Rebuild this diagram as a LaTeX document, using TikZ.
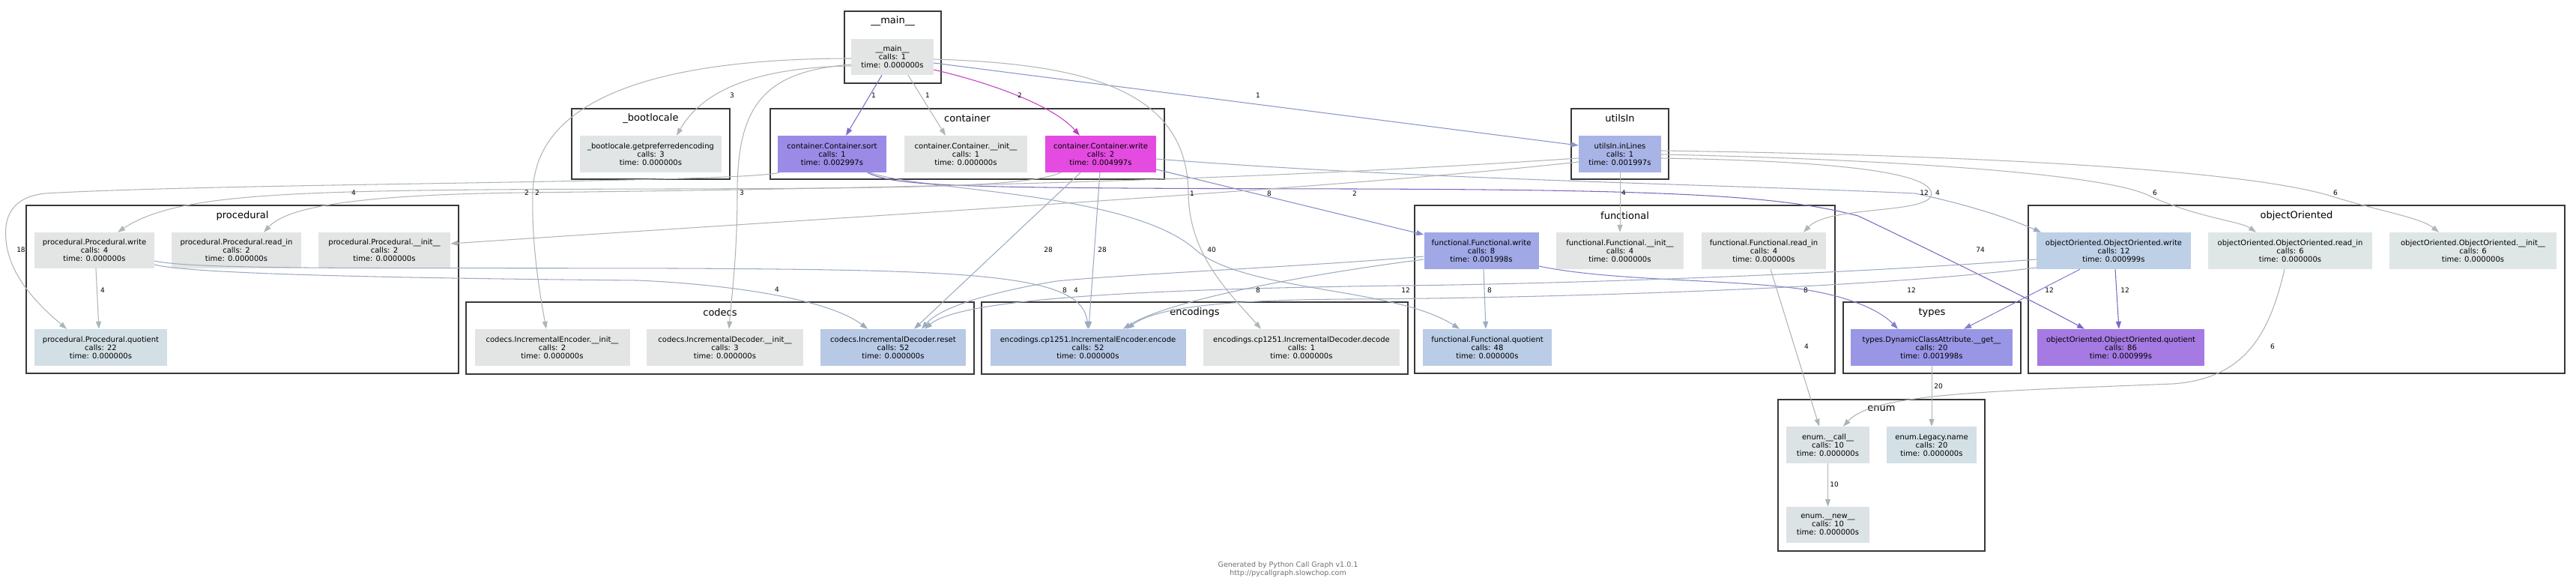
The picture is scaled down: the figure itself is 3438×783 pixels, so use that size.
\documentclass[tikz,border=0pt]{standalone}
\usepackage{fontspec}
\setmainfont{DejaVu Sans}
\usetikzlibrary{arrows.meta}
\definecolor{nGray}{HTML}{E3E5E5}
\definecolor{nBoot}{HTML}{E1E5E6}
\definecolor{nSort}{HTML}{9B8AE6}
\definecolor{nCwrite}{HTML}{E44BE1}
\definecolor{nUtils}{HTML}{A8B4E6}
\definecolor{nFwrite}{HTML}{A0A8E6}
\definecolor{nFquot}{HTML}{BACCE6}
\definecolor{nTypes}{HTML}{9A96E6}
\definecolor{nOOwrite}{HTML}{BED0E6}
\definecolor{nOOgray}{HTML}{DFE6E6}
\definecolor{nOOquot}{HTML}{A57AE3}
\definecolor{nPquot}{HTML}{D2E0E5}
\definecolor{nBlue}{HTML}{B8C9E6}
\definecolor{nEnum}{HTML}{DCE3E5}
\definecolor{nEname}{HTML}{D3E0E5}
\definecolor{eGray}{HTML}{B2B5B5}
\definecolor{eSort}{HTML}{7B6CC6}
\definecolor{eCwrite}{HTML}{C23DBF}
\definecolor{eUtils}{HTML}{8A95C8}
\definecolor{eFwrite}{HTML}{858DCC}
\definecolor{eOOwrite}{HTML}{9CAAC0}
\definecolor{eFquot}{HTML}{9CACC2}
\definecolor{ePquot}{HTML}{ABB6BA}
\definecolor{eOOquot}{HTML}{7D66C4}
\definecolor{eTypes}{HTML}{8480CC}
\definecolor{eBlue}{HTML}{9DABC0}
\definecolor{eEnum}{HTML}{AAB4B8}
\definecolor{kBorder}{HTML}{383838}
\definecolor{footGray}{HTML}{707070}
\begin{document}
\begin{tikzpicture}[x=1pt,y=-1pt,
  fn/.style={rectangle, inner sep=0pt, align=center, font=\fontsize{10}{11}\selectfont, text=black, minimum height=49pt},
  clus/.style={rectangle, draw=kBorder, line width=2.2pt, fill=white, inner sep=0pt},
  clab/.style={font=\fontsize{13}{15}\selectfont, inner sep=0pt, text=black},
  elab/.style={font=\fontsize{9}{10}\selectfont, inner sep=0pt, text=black},
  cg/.style={line width=1.05pt, draw=#1, -{Triangle[length=10pt,width=7pt]}}
]
\fill[white] (0,0) rectangle (3438,783);
\useasboundingbox (0,0) rectangle (3438,783);

% clusters
\node[clus, minimum width=129pt, minimum height=96pt] (kmain) at (1191.5,63) {};
\node[clus, minimum width=211pt, minimum height=94pt] (kboot) at (868.5,192) {};
\node[clus, minimum width=526pt, minimum height=94pt] (kcont) at (1291,192) {};
\node[clus, minimum width=130pt, minimum height=94pt] (kutils) at (2162,192) {};
\node[clus, minimum width=577pt, minimum height=224pt] (kproc) at (323.5,386) {};
\node[clus, minimum width=561pt, minimum height=224pt] (kfunc) at (2168.5,386) {};
\node[clus, minimum width=716pt, minimum height=224pt] (koo) at (3065,386) {};
\node[clus, minimum width=237pt, minimum height=95pt] (ktypes) at (2578.5,450.5) {};
\node[clus, minimum width=678pt, minimum height=96pt] (kcodecs) at (961,451) {};
\node[clus, minimum width=569pt, minimum height=96pt] (kenc) at (1594.5,451) {};
\node[clus, minimum width=276pt, minimum height=202pt] (kenum) at (2511,634) {};

\node[clab] (tmain) at (1191.5,28) {\_\_main\_\_};
\node[clab] (tboot) at (868.5,158) {\_bootlocale};
\node[clab] (tcont) at (1291,158) {container};
\node[clab] (tutils) at (2162,158) {utilsIn};
\node[clab] (tproc) at (323.5,288) {procedural};
\node[clab] (tfunc) at (2168.5,288) {functional};
\node[clab] (too) at (3065,288) {objectOriented};
\node[clab] (ttypes) at (2578.5,417) {types};
\node[clab] (tcodecs) at (961,417) {codecs};
\node[clab] (tenc) at (1594.5,417) {encodings};
\node[clab] (tenum) at (2511,545) {enum};

% nodes
\node[fn, fill=nGray, minimum width=110pt, minimum height=48pt] (main) at (1191,76) {\_\_main\_\_\\calls: 1\\time: 0.000000s};
\node[fn, fill=nBoot, minimum width=189pt] (boot) at (868.5,205.5) {\_bootlocale.getpreferredencoding\\calls: 3\\time: 0.000000s};
\node[fn, fill=nSort, minimum width=145pt] (sort) at (1110.5,205.5) {container.Container.sort\\calls: 1\\time: 0.002997s};
\node[fn, fill=nGray, minimum width=164pt] (cinit) at (1289,205.5) {container.Container.\_\_init\_\_\\calls: 1\\time: 0.000000s};
\node[fn, fill=nCwrite, minimum width=148pt] (cwrite) at (1469,205.5) {container.Container.write\\calls: 2\\time: 0.004997s};
\node[fn, fill=nUtils, minimum width=110pt] (utils) at (2162,205.5) {utilsIn.inLines\\calls: 1\\time: 0.001997s};
\node[fn, fill=nGray, minimum width=160pt, minimum height=48pt] (pwrite) at (126,334) {procedural.Procedural.write\\calls: 4\\time: 0.000000s};
\node[fn, fill=nGray, minimum width=173pt, minimum height=48pt] (pread) at (315.5,334) {procedural.Procedural.read\_in\\calls: 2\\time: 0.000000s};
\node[fn, fill=nGray, minimum width=176pt, minimum height=48pt] (pinit) at (513,334) {procedural.Procedural.\_\_init\_\_\\calls: 2\\time: 0.000000s};
\node[fn, fill=nPquot, minimum width=177pt] (pquot) at (134.5,463.5) {procedural.Procedural.quotient\\calls: 22\\time: 0.000000s};
\node[fn, fill=nFwrite, minimum width=153pt] (fwrite) at (1977,334.5) {functional.Functional.write\\calls: 8\\time: 0.001998s};
\node[fn, fill=nGray, minimum width=170pt] (finit) at (2162,334.5) {functional.Functional.\_\_init\_\_\\calls: 4\\time: 0.000000s};
\node[fn, fill=nGray, minimum width=166pt] (fread) at (2354,334.5) {functional.Functional.read\_in\\calls: 4\\time: 0.000000s};
\node[fn, fill=nFquot, minimum width=172pt] (fquot) at (1985,463.5) {functional.Functional.quotient\\calls: 48\\time: 0.000000s};
\node[fn, fill=nTypes, minimum width=216pt] (types) at (2578,463.5) {types.DynamicClassAttribute.\_\_get\_\_\\calls: 20\\time: 0.001998s};
\node[fn, fill=nOOwrite, minimum width=206pt] (oowrite) at (2821,334.5) {objectOriented.ObjectOriented.write\\calls: 12\\time: 0.000999s};
\node[fn, fill=nOOgray, minimum width=219pt] (ooread) at (3056.5,334.5) {objectOriented.ObjectOriented.read\_in\\calls: 6\\time: 0.000000s};
\node[fn, fill=nOOgray, minimum width=223pt] (ooinit) at (3300.5,334.5) {objectOriented.ObjectOriented.\_\_init\_\_\\calls: 6\\time: 0.000000s};
\node[fn, fill=nOOquot, minimum width=223pt] (ooquot) at (2830.5,463.5) {objectOriented.ObjectOriented.quotient\\calls: 86\\time: 0.000999s};
\node[fn, fill=nGray, minimum width=207pt] (encinit) at (737,463.5) {codecs.IncrementalEncoder.\_\_init\_\_\\calls: 2\\time: 0.000000s};
\node[fn, fill=nGray, minimum width=209pt] (decinit) at (967.5,463.5) {codecs.IncrementalDecoder.\_\_init\_\_\\calls: 3\\time: 0.000000s};
\node[fn, fill=nBlue, minimum width=194pt] (reset) at (1192,463.5) {codecs.IncrementalDecoder.reset\\calls: 52\\time: 0.000000s};
\node[fn, fill=nBlue, minimum width=261pt] (encode) at (1452,463.5) {encodings.cp1251.IncrementalEncoder.encode\\calls: 52\\time: 0.000000s};
\node[fn, fill=nGray, minimum width=262pt] (decode) at (1737,463.5) {encodings.cp1251.IncrementalDecoder.decode\\calls: 1\\time: 0.000000s};
\node[fn, fill=nEnum, minimum width=111pt] (ecall) at (2439.5,593.5) {enum.\_\_call\_\_\\calls: 10\\time: 0.000000s};
\node[fn, fill=nEname, minimum width=120pt] (ename) at (2578,593.5) {enum.Legacy.name\\calls: 20\\time: 0.000000s};
\node[fn, fill=nEnum, minimum width=111pt, minimum height=48pt] (enew) at (2439.5,700) {enum.\_\_new\_\_\\calls: 10\\time: 0.000000s};

% edges from __main__
\draw[cg=eGray] (main.west |- 0,88) .. controls (1000,90) and (935,125) .. (903,0 |- boot.north);
\draw[cg=eSort] (1177,0 |- main.south) -- (1129,0 |- sort.north);
\draw[cg=eGray] (1212,0 |- main.south) -- (1262,0 |- cinit.north);
\draw[cg=eCwrite] (main.east |- 0,93) .. controls (1320,110) and (1405,140) .. (1441,0 |- cwrite.north);
\draw[cg=eUtils] (main.east |- 0,84) -- (utils.west |- 0,194);
\draw[cg=eGray] (main.west |- 0,78) .. controls (880,78) and (714,130) .. (711,257) .. controls (709,330) and (722,400) .. (729,0 |- encinit.north);
\draw[cg=eGray] (main.west |- 0,86) .. controls (1020,95) and (984,140) .. (984,257) .. controls (984,340) and (976,400) .. (973,0 |- decinit.north);
\draw[cg=eGray] (main.east |- 0,79) .. controls (1450,85) and (1585,120) .. (1586,258) .. controls (1587,340) and (1640,390) .. (1683,0 |- decode.north);

% edges from sort
\draw[cg=ePquot] (1040,0 |- sort.south) .. controls (990,244) and (300,244) .. (60,258) .. controls (15,263) and (5,290) .. (8,320) .. controls (12,370) and (55,410) .. (89,0 |- pquot.north);
\draw[cg=eFquot] (1161,0 |- sort.south) .. controls (1230,255) and (1500,255) .. (1592,330) .. controls (1655,390) and (1860,382) .. (1948,0 |- fquot.north);
\draw[cg=eOOquot] (1158,0 |- sort.south) .. controls (1195,250) and (1300,251) .. (1800,252) .. controls (2250,253) and (2380,262) .. (2480,288) .. controls (2600,345) and (2720,405) .. (2782,0 |- ooquot.north);

% edges from container.write
\draw[cg=eGray] (1416,0 |- cwrite.south) .. controls (1370,250) and (1200,251) .. (900,252) .. controls (400,253) and (240,255) .. (157,0 |- pwrite.north);
\draw[cg=eFwrite] (cwrite.east |- 0,226) -- (fwrite.west |- 0,313);
\draw[cg=eOOwrite] (cwrite.east |- 0,212) .. controls (1900,240) and (2300,246) .. (2556,258) .. controls (2640,276) and (2690,295) .. (2724,0 |- oowrite.north);
\draw[cg=eBlue] (1468,0 |- cwrite.south) -- (1453,0 |- encode.north);
\draw[cg=eBlue] (1442,0 |- cwrite.south) -- (1220,0 |- reset.north);

% edges from utilsIn
\draw[cg=eGray] (utils.west |- 0,216) .. controls (1800,250) and (1200,285) .. (pinit.east |- 0,325);
\draw[cg=eGray] (utils.west |- 0,211) .. controls (1700,238) and (1300,250) .. (700,257) .. controls (450,260) and (380,280) .. (352,0 |- pread.north);
\draw[cg=eGray] (utils.south) -- (finit.north);
\draw[cg=eGray] (utils.east |- 0,211) .. controls (2400,214) and (2590,225) .. (2577,262) .. controls (2565,285) and (2440,275) .. (2407,0 |- fread.north);
\draw[cg=eGray] (utils.east |- 0,206) .. controls (2500,212) and (2800,230) .. (2866,260) .. controls (2930,290) and (2990,295) .. (3011,0 |- ooread.north);
\draw[cg=eGray] (utils.east |- 0,201) .. controls (2700,208) and (3000,230) .. (3106,260) .. controls (3180,283) and (3230,290) .. (3255,0 |- ooinit.north);

% edges from procedural.write
\draw[cg=ePquot] (128,0 |- pwrite.south) -- (132,0 |- pquot.north);
\draw[cg=eBlue] (pwrite.east |- 0,353) .. controls (240,362) and (400,370) .. (850,374) .. controls (950,378) and (1100,395) .. (1158,0 |- reset.north);
\draw[cg=eBlue] (pwrite.east |- 0,348) .. controls (260,360) and (500,357) .. (900,358) .. controls (1300,360) and (1445,365) .. (1452,0 |- encode.north);

% edges from functional.write
\draw[cg=eFquot] (1980,0 |- fwrite.south) -- (1983,0 |- fquot.north);
\draw[cg=eTypes] (fwrite.east |- 0,355) .. controls (2150,375) and (2300,372) .. (2400,385) .. controls (2470,395) and (2510,415) .. (2533,0 |- types.north);
\draw[cg=eBlue] (fwrite.west |- 0,342) .. controls (1750,355) and (1500,366) .. (1410,375) .. controls (1320,390) and (1255,410) .. (1230,0 |- reset.north);
\draw[cg=eBlue] (fwrite.west |- 0,346) .. controls (1750,365) and (1560,400) .. (1499,0 |- encode.north);

% edges from objectOriented.write
\draw[cg=eTypes] (2776,0 |- oowrite.south) -- (2621,0 |- types.north);
\draw[cg=eOOquot] (2823,0 |- oowrite.south) -- (2828,0 |- ooquot.north);
\draw[cg=eBlue] (oowrite.west |- 0,357) .. controls (2500,385) and (2050,398) .. (1800,399) .. controls (1620,400) and (1540,412) .. (1504,0 |- encode.north);
\draw[cg=eBlue] (oowrite.west |- 0,346) .. controls (2400,370) and (2000,380) .. (1866,381) .. controls (1500,386) and (1280,400) .. (1234,0 |- reset.north);

% enum edges
\draw[cg=eEnum] (2363,0 |- fread.south) -- (2428,0 |- ecall.north);
\draw[cg=eEnum] (3049,0 |- ooread.south) .. controls (3030,440) and (3000,505) .. (2900,512) .. controls (2650,522) and (2500,525) .. (2460,0 |- ecall.north);
\draw[cg=eEnum] (types.south) -- (ename.north);
\draw[cg=eEnum] (ecall.south) -- (enew.north);

% edge labels
\node[elab] (l1) at (977,127) {3};
\node[elab] (l2) at (1166,127) {1};
\node[elab] (l3) at (1238,127) {1};
\node[elab] (l4) at (1361,127) {2};
\node[elab] (l5) at (1679,127) {1};
\node[elab] (l6) at (703,257) {2};
\node[elab] (l7) at (990,257) {3};
\node[elab] (l8) at (1591,258) {1};
\node[elab] (l9) at (28,333) {18};
\node[elab] (l10) at (1617,333) {40};
\node[elab] (l11) at (2643,333) {74};
\node[elab] (l12) at (472,257) {4};
\node[elab] (l13) at (1694,258) {8};
\node[elab] (l14) at (2568,257) {12};
\node[elab] (l15) at (1471,333) {28};
\node[elab] (l16) at (1399,333) {28};
\node[elab] (l17) at (1808,258) {2};
\node[elab] (l18) at (717,257) {2};
\node[elab] (l19) at (2167,257) {4};
\node[elab] (l20) at (2586,257) {4};
\node[elab] (l21) at (2876,257) {6};
\node[elab] (l22) at (3117,257) {6};
\node[elab] (l23) at (137,387) {4};
\node[elab] (l24) at (1037,386) {4};
\node[elab] (l25) at (1436,387) {4};
\node[elab] (l26) at (1988,387) {8};
\node[elab] (l27) at (2410,387) {8};
\node[elab] (l28) at (1421,387) {8};
\node[elab] (l29) at (1679,387) {8};
\node[elab] (l30) at (2735,387) {12};
\node[elab] (l31) at (2836,387) {12};
\node[elab] (l32) at (2551,387) {12};
\node[elab] (l33) at (1876,387) {12};
\node[elab] (l34) at (2411,462) {4};
\node[elab] (l35) at (3033,462) {6};
\node[elab] (l36) at (2587,515) {20};
\node[elab] (l37) at (2448,646) {10};

% footer
\node[font=\fontsize{9.5}{11}\selectfont, text=footGray, align=center, inner sep=0pt] (foot) at (1719,759.5) {Generated by Python Call Graph v1.0.1\\http://pycallgraph.slowchop.com};
\end{tikzpicture}
\end{document}
